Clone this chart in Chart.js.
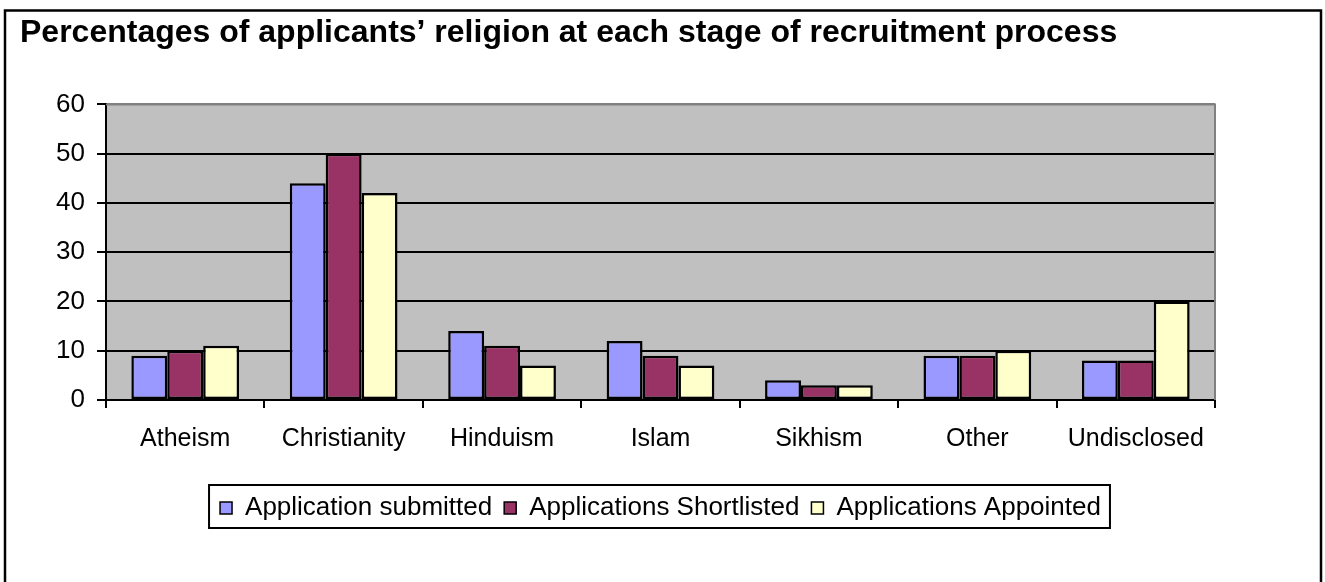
<!DOCTYPE html>
<html>
<head>
<meta charset="utf-8">
<title>Applicants' religion by recruitment stage</title>
<script src="https://cdn.jsdelivr.net/npm/chart.js@4/dist/chart.umd.min.js"></script>
<style>
  html, body { margin: 0; padding: 0; background: #fff; }
  #wrap { position: relative; width: 1325px; height: 582px; }
</style>
</head>
<body>
<div id="wrap"><canvas id="chart"></canvas></div>
<script>
'use strict';

const categories = ['Atheism', 'Christianity', 'Hinduism', 'Islam', 'Sikhism', 'Other', 'Undisclosed'];
const submitted = [9, 44, 14, 12, 4, 9, 8];
const shortlisted = [10, 50, 11, 9, 3, 9, 8];
const appointed = [11, 42, 7, 7, 3, 10, 20];
const seriesNames = ['Application submitted', 'Applications Shortlisted', 'Applications Appointed'];
const yTicks = [0, 10, 20, 30, 40, 50, 60];

const FONT = 'Arial, "Liberation Sans", sans-serif';

// white page, outer frame and grey plot area
const backdrop = {
    id: 'backdrop',
    beforeDraw (chart)
    {
        const {ctx, chartArea: a} = chart;
        ctx.save();
        ctx.fillStyle = '#fff';
        ctx.fillRect(0, 0, chart.width, chart.height);
        ctx.strokeStyle = '#000';
        ctx.lineWidth = 2.5;
        ctx.strokeRect(5, 10.5, 1316, 600);
        ctx.fillStyle = '#c0c0c0';
        ctx.fillRect(a.left, a.top, a.right - a.left, a.bottom - a.top);
        ctx.restore();
    },
    beforeDatasetsDraw (chart)
    {
        const {ctx, chartArea: a} = chart;
        ctx.save();
        ctx.strokeStyle = '#808080';
        ctx.lineWidth = 2;
        ctx.beginPath();
        ctx.moveTo(a.left, a.top);
        ctx.lineTo(a.right, a.top);
        ctx.lineTo(a.right, a.bottom);
        ctx.stroke();
        ctx.restore();
    }
};

// box drawn round the legend entries
const legendFrame = {
    id: 'legendFrame',
    afterDraw (chart)
    {
        const boxes = chart.legend.legendHitBoxes;
        if (!boxes || !boxes.length) return;
        const left = Math.min(...boxes.map(b => b.left)) - 11;
        const right = Math.max(...boxes.map(b => b.left + b.width)) + 9;
        const top = Math.min(...boxes.map(b => b.top)) - 10;
        const bottom = Math.max(...boxes.map(b => b.top + b.height)) + 7;
        const ctx = chart.ctx;
        ctx.save();
        ctx.strokeStyle = '#000';
        ctx.lineWidth = 2;
        ctx.strokeRect(left, top, right - left, bottom - top);
        ctx.restore();
    }
};

const bar = (label, data, color) => ({
    label,
    data,
    backgroundColor: color,
    borderColor: '#000',
    borderWidth: 2.5,
    borderSkipped: false,
    categoryPercentage: 0.68,
    barPercentage: 1.0
});

new Chart(document.getElementById('chart'), {
    type: 'bar',
    data: {
        labels: categories,
        datasets: [
            bar(seriesNames[0], submitted, '#9999ff'),
            bar(seriesNames[1], shortlisted, '#993366'),
            bar(seriesNames[2], appointed, '#ffffcc')
        ]
    },
    options: {
        responsive: true,
        maintainAspectRatio: false,
        animation: false,
        devicePixelRatio: 1,
        layout: {padding: {left: 20, right: 110, top: 0, bottom: 51}},
        plugins: {
            title: {
                display: true,
                text: 'Percentages of applicants\u2019 religion at each stage of recruitment process',
                align: 'start',
                color: '#000',
                font: {family: FONT, size: 32, weight: 'bold'},
                padding: {top: 14, bottom: 52}
            },
            legend: {
                position: 'bottom',
                fullSize: false,
                labels: {
                    color: '#000',
                    font: {family: FONT, size: 26},
                    boxWidth: 12,
                    boxHeight: 12,
                    padding: 12,
                    generateLabels (chart)
                    {
                        return chart.data.datasets.map((ds, i) => ({
                            text: ds.label,
                            fillStyle: ds.backgroundColor,
                            strokeStyle: '#000',
                            lineWidth: 1.5,
                            fontColor: '#000',
                            datasetIndex: i,
                            hidden: false
                        }));
                    }
                }
            },
            tooltip: {enabled: false}
        },
        scales: {
            x: {
                grid: {
                    offset: true,
                    drawOnChartArea: false,
                    color: '#000',
                    tickLength: 8,
                    lineWidth: 2
                },
                border: {color: '#000', width: 2},
                ticks: {
                    color: '#000',
                    font: {family: FONT, size: 25},
                    padding: 16,
                    maxRotation: 0
                },
                afterFit (scale) { scale.height = 83; }
            },
            y: {
                min: 0,
                max: 60,
                afterBuildTicks (scale) { scale.ticks = yTicks.map(v => ({value: v})); },
                grid: {
                    color: ctx => (ctx.tick && ctx.tick.value === 60 ? '#808080' : '#000'),
                    tickColor: '#000',
                    lineWidth: 2,
                    tickLength: 9
                },
                border: {color: '#000', width: 2},
                ticks: {
                    color: '#000',
                    font: {family: FONT, size: 26},
                    padding: 12
                },
                afterFit (scale) { scale.width = 86; }
            }
        }
    },
    plugins: [backdrop, legendFrame]
});
</script>
</body>
</html>
